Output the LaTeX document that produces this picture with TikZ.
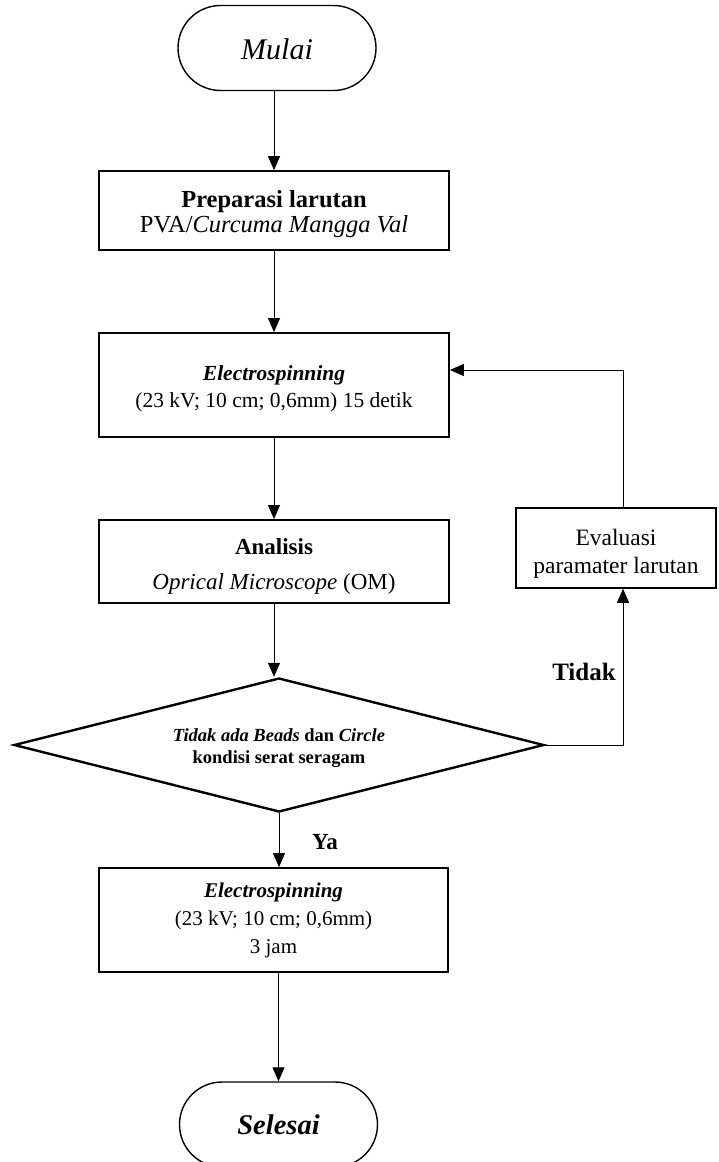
\documentclass[tikz,border=0pt]{standalone}
\usepackage{fontspec}
\setmainfont{Liberation Serif}
\usetikzlibrary{arrows.meta,shapes.geometric,shapes.misc}
\newcommand\lowerby[1]{\rule{0pt}{\dimexpr 0.7em+#1*2\relax}}
\begin{document}
\begin{tikzpicture}[x=1pt,y=-1pt,
  box/.style={draw, line width=1.8pt, minimum width=350pt, align=center, inner sep=0pt},
  term/.style={draw, line width=1.4pt, rounded rectangle, minimum width=198pt, minimum height=85pt, inner sep=0pt},
  decision/.style={draw, line width=2.4pt, diamond, aspect=3.96, minimum width=530pt, minimum height=134pt, inner sep=0pt, align=center,
    font=\fontsize{18.5}{22}\selectfont\bfseries},
  conn/.style={line width=1pt, -{Triangle[width=12pt,length=14pt]}},
  lbl/.style={inner sep=0pt}]
\useasboundingbox (0,0) rectangle (718,1162);
\node[term, font=\fontsize{30}{34}\selectfont\itshape] (mulai) at (277,48) {\lowerby{1pt}Mulai};
\node[box, minimum height=79pt, font=\fontsize{24.5}{25.5}\selectfont] (prep) at (274,210.5) {\lowerby{3.5pt}\textbf{Preparasi larutan}\\PVA/\textit{Curcuma Mangga Val}};
\node[box, minimum height=104pt, font=\fontsize{21.5}{27}\selectfont] (el1) at (274,385) {\lowerby{4pt}\textbf{\textit{Electrospinning}}\\(23 kV; 10 cm; 0,6mm) 15 detik};
\node[box, minimum height=83pt, font=\fontsize{23}{35}\selectfont] (ana) at (274,561.5) {\lowerby{5pt}\textbf{Analisis}\\\textit{Oprical Microscope} (OM)};
\node[box, line width=1.6pt, minimum width=200pt, minimum height=80pt, font=\fontsize{23.5}{28}\selectfont] (eva) at (616,548) {\lowerby{5.5pt}Evaluasi\\paramater larutan};
\node[decision] (dec) at (279,745) {\lowerby{3pt}\textit{Tidak ada Beads} dan \textit{Circle}\\kondisi serat seragam};
\node[box, minimum width=349pt, minimum height=104pt, font=\fontsize{21}{28}\selectfont] (el2) at (273.5,920) {\textbf{\textit{Electrospinning}}\\(23 kV; 10 cm; 0,6mm)\\3 jam};
\node[term, font=\fontsize{28.5}{32}\selectfont\bfseries\itshape] (sel) at (278.5,1124.5) {Selesai};
\coordinate (fb) at (623,0);
\node[lbl, font=\fontsize{25}{28}\selectfont\bfseries] (tidak) at (584,672) {Tidak};
\node[lbl, font=\fontsize{23}{26}\selectfont\bfseries] (ya) at (325,842) {Ya};
\draw[conn] (mulai.south -| prep.north) -- (prep.north);
\draw[conn] (prep.south) -- (el1.north);
\draw[conn] (el1.south) -- (ana.north);
\draw[conn] (ana.south) -- (ana.south |- dec.north);
\draw[conn] (dec.south) -- (dec.south |- el2.north);
\draw[conn] (el2.south -| sel.north) -- (sel.north);
\draw[conn] (dec.east) -| (eva.south -| fb);
\draw[conn] (eva.north -| fb) |- ([yshift=15pt]el1.east);
\end{tikzpicture}
\end{document}
